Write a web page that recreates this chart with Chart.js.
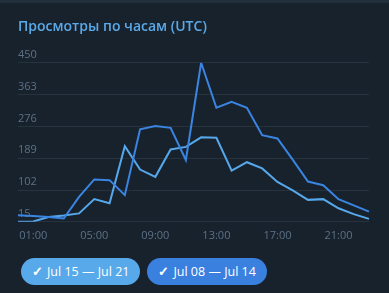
<!DOCTYPE html>
<html lang="ru">
<head>
<meta charset="utf-8">
<title>Просмотры по часам</title>
<script src="https://cdn.jsdelivr.net/npm/chart.js@4.4.0/dist/chart.umd.min.js"></script>
<style>
  html, body { margin: 0; padding: 0; background: #18222d; }
  #wrap { position: relative; width: 389px; height: 293px; overflow: hidden; border-top: 3px solid #242f3d; box-sizing: border-box; }
  #box { position: absolute; left: 0; top: 0; width: 389px; height: 250px; }
  #legend { position: absolute; left: 21px; top: 255px; display: flex; gap: 7px; font-family: "Open Sans", sans-serif; }
  .pill { height: 27px; line-height: 27px; border-radius: 14px; color: #fff; font-size: 12.5px; padding: 0 11px 0 11px; white-space: nowrap; }
  .pill span { font-weight: bold; margin-right: 4px; }
</style>
</head>
<body>
<div id="wrap">
  <div id="box"><canvas id="chart"></canvas></div>
  <div id="legend"></div>
</div>
<script>
// hours 00:00 .. 23:00
const hours = [];
for (let h = 0; h < 24; h++) hours.push((h < 10 ? "0" : "") + h + ":00");

const seriesNames = ["Jul 15 — Jul 21", "Jul 08 — Jul 14"];
const seriesColors = ["#56a8ea", "#3a84e2"];

// views per hour
const viewsJul15 = [15, 16, 28, 32, 38, 77, 66, 222, 158, 138, 213, 220, 246, 245, 155, 178, 161, 124, 101, 75, 77, 52, 36, 23];
const viewsJul08 = [33, 31, 28, 24, 83, 131, 129, 88, 268, 277, 272, 184, 450, 327, 343, 327, 252, 243, 185, 125, 115, 77, 60, 43];

const yTicks = [15, 102, 189, 276, 363, 450];

const font = "'Open Sans', sans-serif";

new Chart(document.getElementById("chart"), {
  type: "line",
  data: {
    labels: hours,
    datasets: [
      { label: seriesNames[1], data: viewsJul08, borderColor: seriesColors[1], borderWidth: 2, pointRadius: 0, tension: 0 },
      { label: seriesNames[0], data: viewsJul15, borderColor: seriesColors[0], borderWidth: 2, pointRadius: 0, tension: 0 }
    ]
  },
  options: {
    responsive: true,
    maintainAspectRatio: false,
    animation: false,
    layout: { padding: { left: 18, right: 20, top: 0, bottom: 4 } },
    plugins: {
      legend: { display: false },
      tooltip: { enabled: false },
      title: {
        display: true,
        text: "Просмотры по часам (UTC)",
        align: "start",
        color: "#5aa9e9",
        font: { family: font, size: 14, weight: "600" },
        padding: { top: 16, bottom: 27 }
      }
    },
    scales: {
      x: {
        grid: { display: false, drawTicks: false },
        border: { display: false },
        ticks: {
          color: "#5d7186",
          font: { family: font, size: 11 },
          autoSkip: false,
          maxRotation: 0,
          padding: 7,
          callback: function (v, i) { return i % 4 === 1 ? hours[i] : null; }
        }
      },
      y: {
        min: yTicks[0],
        max: yTicks[yTicks.length - 1],
        afterBuildTicks: function (axis) { axis.ticks = yTicks.map(v => ({ value: v })); },
        grid: { color: "#27323f", lineWidth: 1, drawTicks: false },
        border: { display: false },
        ticks: {
          mirror: true,
          padding: 0,
          labelOffset: -8,
          color: "#5d7186",
          font: { family: font, size: 11 }
        }
      }
    }
  }
});

// legend pills
const legend = document.getElementById("legend");
seriesNames.forEach((name, i) => {
  const d = document.createElement("div");
  d.className = "pill";
  d.style.background = i === 0 ? "#58a9ea" : "#3a80df";
  d.innerHTML = "<span>✓</span>" + name;
  legend.appendChild(d);
});
</script>
</body>
</html>
